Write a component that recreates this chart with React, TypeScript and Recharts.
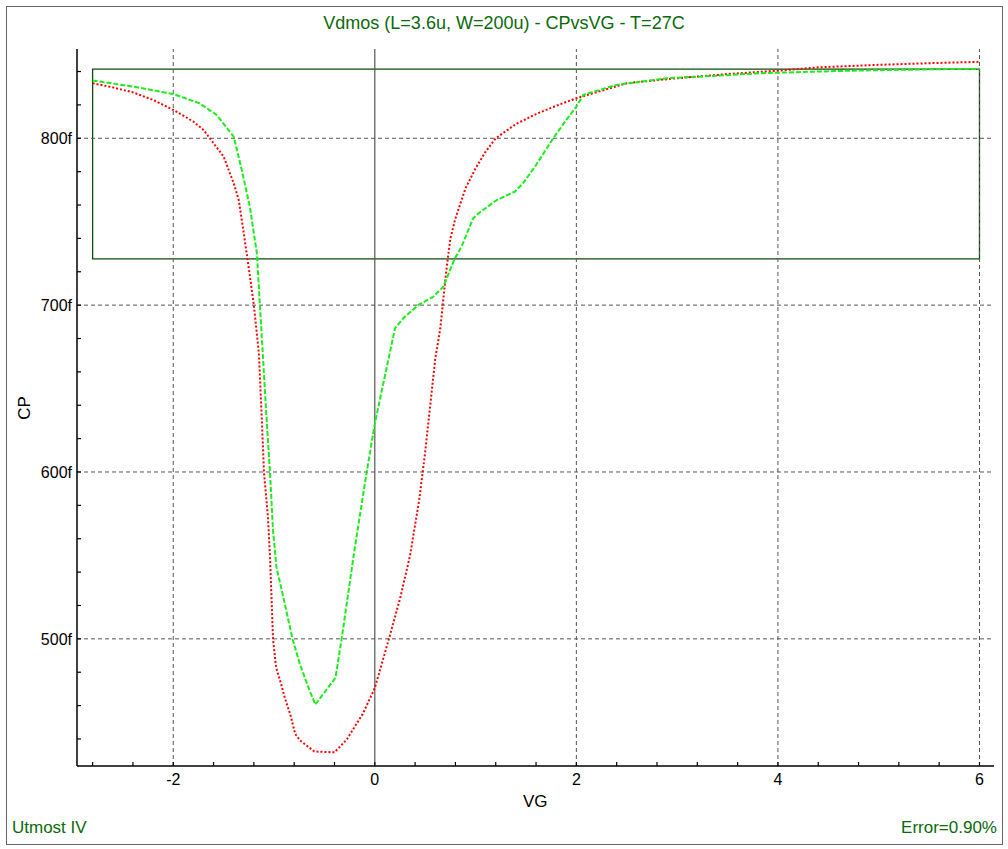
import React from "react";
import { LineChart, Line, XAxis, YAxis, ReferenceLine, ReferenceArea } from "recharts";

// Measured (red, dotted) curve
const measVG = [-2.8, -2.6, -2.4, -2.2, -2.0, -1.8, -1.7, -1.6, -1.5, -1.4, -1.35, -1.3, -1.25, -1.2, -1.15, -1.12, -1.1, -1.06, -1.04, -1.01, -0.98, -0.93, -0.89, -0.84, -0.79, -0.74, -0.6, -0.4, -0.28, -0.12, 0.0, 0.14, 0.25, 0.35, 0.44, 0.5, 0.6, 0.65, 0.71, 0.75, 0.8, 0.9, 1.0, 1.1, 1.2, 1.4, 1.6, 1.8, 2.0, 2.5, 3.0, 3.5, 4.0, 4.4, 5.0, 5.5, 6.0];
const measCP = [833, 830.5, 827.5, 823, 817, 810, 805, 797, 789, 773, 763, 743, 722, 700, 671, 630, 600, 573, 549, 500, 483, 473, 464, 455, 443, 439, 432.5, 432, 439.5, 455, 470.5, 500, 524, 550, 583, 612, 668, 686, 721, 740, 752, 770, 782, 792, 800, 808.5, 814.5, 819.5, 824, 833, 836, 838.5, 840.5, 842.5, 844, 845, 845.8];

// Simulated (green, dashed) curve
const simVG = [-2.8, -2.4, -2.0, -1.74, -1.57, -1.4, -1.32, -1.24, -1.17, -1.14, -1.1, -1.075, -1.04, -1.01, -0.976, -0.893, -0.817, -0.744, -0.66, -0.59, -0.39, -0.33, -0.2, -0.08, 0.0, 0.2, 0.28, 0.43, 0.58, 0.68, 0.79, 0.86, 0.976, 1.03, 1.21, 1.39, 1.47, 1.6, 1.77, 1.9, 2.0, 2.07, 2.4, 2.9, 3.4, 3.82, 4.72, 5.7, 6.0];
const simCP = [834.6, 831, 826.5, 821, 814, 801, 781, 759, 731, 700, 659, 633, 600, 565, 543, 521, 500, 485, 471, 460.6, 476.7, 499.6, 554, 600, 629, 686, 692, 700, 705, 711, 727.5, 735, 752, 755, 763, 768, 773, 784, 800, 811, 819, 826, 832, 836, 837.5, 839, 840.5, 841.5, 841.6];

// Fit-window box [x1, x2, y1, y2]
const boxVG = [-2.8, 6.0];
const boxCP = [727.7, 841.4];

const xDomain = [-2.955, 6.144];
const yDomain = [423.8, 853.5];
const xTicks = [-2.8, -2.4, -2.0, -1.6, -1.2, -0.8, -0.4, 0, 0.4, 0.8, 1.2, 1.6, 2.0, 2.4, 2.8, 3.2, 3.6, 4.0, 4.4, 4.8, 5.2, 5.6, 6.0];
const yTicks = [440, 460, 480, 500, 520, 540, 560, 580, 600, 620, 640, 660, 680, 700, 720, 740, 760, 780, 800, 820, 840];
const xGrid = [-2, 2, 4, 6];
const yGrid = [500, 600, 700, 800];

const measData = measVG.map((v, i) => ({ vg: v, cp: measCP[i] }));
const simData = simVG.map((v, i) => ({ vg: v, cp: simCP[i] }));

const FONT = "'Liberation Sans', Arial, sans-serif";
const GREEN_TXT = "#0a6a0a";

const XTick = (props: any) => {
  const { x, y, payload } = props;
  const v = payload.value;
  const r = Math.round(v);
  const major = Math.abs(v - r) < 1e-6 && r % 2 === 0;
  return (
    <g>
      <line x1={x} x2={x} y1={y} y2={y - 4} stroke="#000" strokeWidth={1.2} />
      {major && (
        <text x={x} y={y + 19} textAnchor="middle" fontFamily={FONT} fontSize={16} fill="#000">
          {r}
        </text>
      )}
    </g>
  );
};

const YTick = (props: any) => {
  const { x, y, payload } = props;
  const v = Math.round(payload.value);
  const major = v % 100 === 0;
  return (
    <g>
      <line x1={x} x2={x + 4} y1={y} y2={y} stroke="#000" strokeWidth={1.2} />
      {major && (
        <text x={x - 5} y={y + 6} textAnchor="end" fontFamily={FONT} fontSize={16} fill="#000">
          {v + "f"}
        </text>
      )}
    </g>
  );
};

export default function App() {
  return (
    <div style={{ position: "absolute", left: 0, top: 0, width: 1008, height: 849, background: "#fff", fontFamily: FONT }}>
      <div style={{ position: "absolute", left: 6, top: 6, width: 997, height: 839, border: "1px solid #666", boxSizing: "border-box" }} />
      <div style={{ position: "absolute", left: 0, width: 1008, top: 13, textAlign: "center", color: GREEN_TXT, fontSize: 18 }}>
        Vdmos (L=3.6u, W=200u) - CPvsVG - T=27C
      </div>
      <div style={{ position: "absolute", left: 0, top: 0 }}>
        <LineChart width={1008} height={849} margin={{ top: 49, right: 14, bottom: 53, left: 0 }}>
          <XAxis
            dataKey="vg"
            type="number"
            domain={xDomain}
            ticks={xTicks}
            allowDataOverflow
            height={30}
            tickSize={0}
            tickMargin={0}
            tickLine={false}
            tick={<XTick />}
            axisLine={{ stroke: "#000", strokeWidth: 1.5 }}
            interval={0}
          />
          <XAxis xAxisId="top" orientation="top" type="number" domain={xDomain} allowDataOverflow height={0} tick={false} tickLine={false} axisLine={{ stroke: "#555", strokeWidth: 1.2 }} />
          <YAxis
            dataKey="cp"
            type="number"
            domain={yDomain}
            ticks={yTicks}
            allowDataOverflow
            width={77}
            tickSize={0}
            tickMargin={0}
            tickLine={false}
            tick={<YTick />}
            axisLine={{ stroke: "#000", strokeWidth: 1.5 }}
            interval={0}
          />
          <YAxis yAxisId="right" orientation="right" type="number" domain={yDomain} allowDataOverflow width={0} tick={false} tickLine={false} axisLine={{ stroke: "#555", strokeWidth: 1.2 }} />
          {xGrid.map((g) => (
            <ReferenceLine key={"xg" + g} x={g} stroke="#555" strokeDasharray="4 3" strokeWidth={1} />
          ))}
          {yGrid.map((g) => (
            <ReferenceLine key={"yg" + g} y={g} stroke="#555" strokeDasharray="4 3" strokeWidth={1} />
          ))}
          <ReferenceLine x={0} stroke="#555" strokeWidth={1.2} />
          <ReferenceArea x1={boxVG[0]} x2={boxVG[1]} y1={boxCP[0]} y2={boxCP[1]} fill="none" fillOpacity={0} stroke="#0b4d0b" strokeWidth={1.3} />
          <Line data={measData} dataKey="cp" type="linear" stroke="#ff0000" strokeWidth={2} strokeDasharray="2 2" dot={false} isAnimationActive={false} />
          <Line data={simData} dataKey="cp" type="linear" stroke="#1aee1a" strokeWidth={2} strokeDasharray="5 2" dot={false} isAnimationActive={false} />
        </LineChart>
      </div>
      <div style={{ position: "absolute", left: 523, top: 792, fontSize: 17, color: "#000" }}>VG</div>
      <div style={{ position: "absolute", left: 25, top: 408, fontSize: 17, color: "#000", transform: "translate(-50%, -50%) rotate(-90deg)" }}>CP</div>
      <div style={{ position: "absolute", left: 12, top: 818, fontSize: 17, color: GREEN_TXT }}>Utmost IV</div>
      <div style={{ position: "absolute", right: 11, top: 818, fontSize: 17, color: GREEN_TXT }}>Error=0.90%</div>
    </div>
  );
}
